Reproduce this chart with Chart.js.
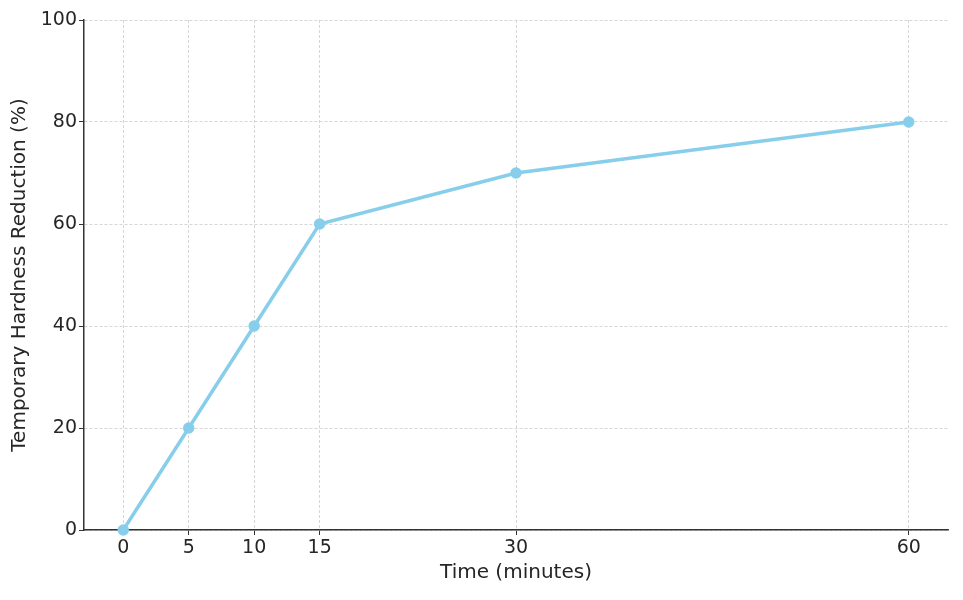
<!DOCTYPE html>
<html>
<head>
<meta charset="utf-8">
<script src="https://cdn.jsdelivr.net/npm/chart.js@4/dist/chart.umd.min.js"></script>
<style>
  html, body { margin: 0; padding: 0; background: #fff; }
  #wrap { width: 963px; height: 600px; }
</style>
</head>
<body>
<div id="wrap"><canvas id="lineChart" width="963" height="600"></canvas></div>
<script>
// data
const times = [0, 5, 10, 15, 30, 60];
const reduction = [0, 20, 40, 60, 70, 80];
const xTicks = [0, 5, 10, 15, 30, 60];
const yTicks = [0, 20, 40, 60, 80, 100];

const textColor = '#262626';
const font = { family: 'DejaVu Sans', size: 19 };
const titleFont = { family: 'DejaVu Sans', size: 20 };

const ctx = document.getElementById('lineChart').getContext('2d');
const chart = new Chart(ctx, {
    type: 'line',
    data: {
        datasets: [{
            data: times.map((t, i) => ({ x: t, y: reduction[i] })),
            borderColor: '#87CEEB',
            backgroundColor: '#87CEEB',
            borderWidth: 3.5,
            pointRadius: 4,
            pointHoverRadius: 4,
            tension: 0,
            clip: false
        }]
    },
    options: {
        responsive: false,
        animation: false,
        layout: { padding: { top: 20, right: 15, left: 0, bottom: 0 } },
        plugins: { legend: { display: false }, tooltip: { enabled: false } },
        scales: {
            x: {
                type: 'linear',
                min: -3,
                max: 63,
                afterBuildTicks: (scale) => { scale.ticks = xTicks.map(v => ({ value: v })); },
                afterFit: (scale) => { scale.height = 70; },
                ticks: { color: textColor, font: font, padding: 2, maxRotation: 0 },
                grid: {
                    color: '#cccccc',
                    lineWidth: 0.8,
                    tickLength: 5,
                    tickColor: '#333',
                    tickWidth: 1
                },
                border: { color: '#333', width: 1.5, dash: [3, 2] },
                title: {
                    display: true,
                    text: 'Time (minutes)',
                    color: textColor,
                    font: titleFont,
                    padding: { top: 2, bottom: 15 }
                }
            },
            y: {
                min: 0,
                max: 100,
                afterBuildTicks: (scale) => { scale.ticks = yTicks.map(v => ({ value: v })); },
                afterFit: (scale) => { scale.width = 84; },
                ticks: { color: textColor, font: font, padding: 2 },
                grid: {
                    color: '#cccccc',
                    lineWidth: 0.8,
                    tickLength: 5,
                    tickColor: '#333',
                    tickWidth: 1
                },
                border: { color: '#333', width: 1.5, dash: [3, 2] },
                title: {
                    display: true,
                    text: 'Temporary Hardness Reduction (%)',
                    color: textColor,
                    font: titleFont,
                    padding: { top: 8, bottom: 6 }
                }
            }
        }
    }
});
</script>
</body>
</html>
